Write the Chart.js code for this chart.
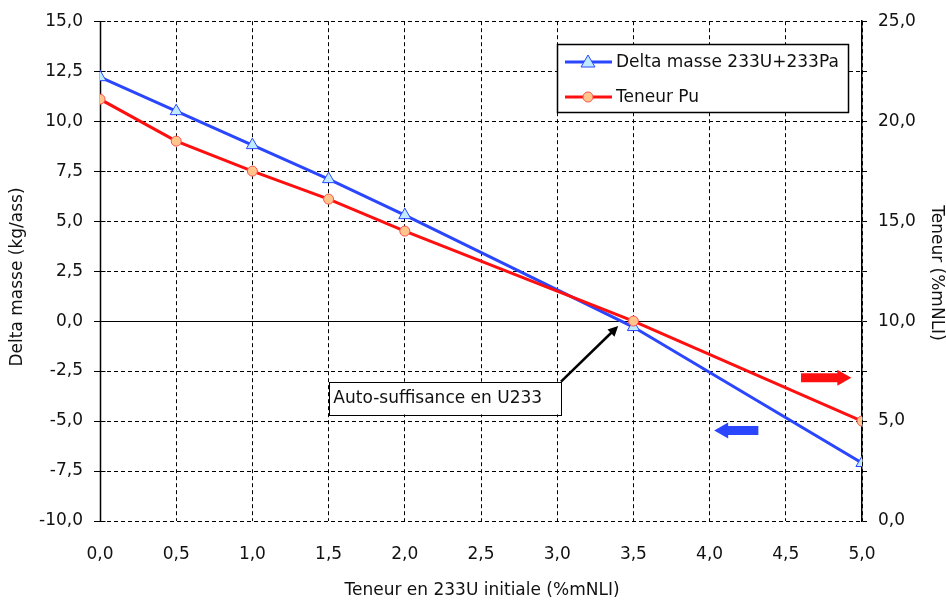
<!DOCTYPE html>
<html>
<head>
<meta charset="utf-8">
<script src="https://cdn.jsdelivr.net/npm/chart.js@4/dist/chart.umd.min.js"></script>
<style>
body{margin:0;background:#fff;}
</style>
</head>
<body>
<canvas id="chart" width="946" height="601"></canvas>
<script>
/* ==========================================
DATA
========================================== */

const teneurU233 = [0.0, 0.5, 1.0, 1.5, 2.0, 3.5, 5.0];

const deltaMasse = [12.2, 10.5, 8.8, 7.1, 5.3, -0.3, -7.1];

const teneurPu = [21.1, 19.0, 17.5, 16.1, 14.5, 10.0, 5.0];

const seriesNames = ["Delta masse 233U+233Pa", "Teneur Pu"];

const xTitle = "Teneur en 233U initiale (%mNLI)";
const yTitle = "Delta masse (kg/ass)";
const y1Title = "Teneur (%mNLI)";

const noteText = "Auto-suffisance en U233";


/* ==========================================
STYLE
========================================== */

const FONT = "DejaVu Sans";
const FSIZE = 17;
const BLUE = "#2a46ff";
const RED = "#ff1010";

function fmt(v){
return Number(v).toFixed(1).replace(".", ",");
}

function toPoints(xs, ys){
return xs.map((x, i) => ({ x: x, y: ys[i] }));
}


/* ==========================================
DECORATIONS (axes lines, legend, note, arrows, titles)
========================================== */

const decorPlugin = {

id: "decor",

beforeDatasetsDraw(chart){

const ctx = chart.ctx;
const a = chart.chartArea;
const sy = chart.scales.y;
const y0 = Math.round(sy.getPixelForValue(0)) + 0.5;
const xl = Math.round(a.left) + 0.5;

ctx.save();
ctx.strokeStyle = "#000";
ctx.lineWidth = 1;

// solid zero line
ctx.beginPath();
ctx.moveTo(a.left, y0);
ctx.lineTo(a.right, y0);
ctx.stroke();

// solid left axis with ticks on both sides
ctx.lineWidth = 1.5;
ctx.beginPath();
ctx.moveTo(xl, a.top);
ctx.lineTo(xl, a.bottom);
ctx.stroke();

ctx.lineWidth = 1;
sy.ticks.forEach(t => {
const p = Math.round(sy.getPixelForValue(t.value)) + 0.5;
ctx.beginPath();
ctx.moveTo(xl, p);
ctx.lineTo(xl + 5, p);
ctx.stroke();
});

ctx.restore();

},

afterDraw(chart){

const ctx = chart.ctx;
const sx = chart.scales.x;
const sy = chart.scales.y;
const a = chart.chartArea;

ctx.save();

// axis titles
ctx.fillStyle = "#111";
ctx.font = FSIZE + "px '" + FONT + "'";
ctx.textAlign = "center";
ctx.textBaseline = "middle";
ctx.fillText(xTitle, (a.left + a.right) / 2 + 1, 591);

ctx.save();
ctx.translate(18, 277);
ctx.rotate(-Math.PI / 2);
ctx.fillText(yTitle, 0, 0);
ctx.restore();

ctx.save();
ctx.translate(936, 273);
ctx.rotate(Math.PI / 2);
ctx.fillText(y1Title, 0, 0);
ctx.restore();

// legend box
const lx = 557, ly = 44, lw = 291, lh = 68;
ctx.fillStyle = "#fff";
ctx.fillRect(lx, ly, lw, lh);
ctx.strokeStyle = "#000";
ctx.lineWidth = 1.5;
ctx.strokeRect(lx + 0.5, ly + 0.5, lw, lh);

const rows = [
{ y: 62, color: BLUE, name: seriesNames[0], tri: true },
{ y: 97, color: RED, name: seriesNames[1], tri: false }
];

rows.forEach(r => {

ctx.strokeStyle = r.color;
ctx.lineWidth = 3;
ctx.beginPath();
ctx.moveTo(565, r.y);
ctx.lineTo(612, r.y);
ctx.stroke();

ctx.lineWidth = 1;
ctx.beginPath();
if(r.tri){
ctx.fillStyle = "#bfeaff";
ctx.strokeStyle = BLUE;
ctx.moveTo(588, r.y - 7);
ctx.lineTo(595, r.y + 5);
ctx.lineTo(581, r.y + 5);
ctx.closePath();
}else{
ctx.fillStyle = "#ffc58a";
ctx.strokeStyle = "#ff5050";
ctx.arc(588, r.y, 5, 0, Math.PI * 2);
}
ctx.fill();
ctx.stroke();

ctx.fillStyle = "#111";
ctx.textAlign = "left";
ctx.fillText(r.name, 616, r.y + 1);

});

// note box + arrow
const bx1 = sx.getPixelForValue(1.505);
const bx2 = sx.getPixelForValue(3.025);
const by1 = sy.getPixelForValue(-3.03);
const by2 = sy.getPixelForValue(-4.67);

ctx.fillStyle = "#fff";
ctx.fillRect(bx1, by1, bx2 - bx1, by2 - by1);
ctx.strokeStyle = "#000";
ctx.lineWidth = 1;
ctx.strokeRect(Math.round(bx1) + 0.5, Math.round(by1) + 0.5, Math.round(bx2 - bx1), Math.round(by2 - by1));

ctx.fillStyle = "#111";
ctx.textAlign = "left";
ctx.fillText(noteText, bx1 + 4, (by1 + by2) / 2 + 1);

const tx = sx.getPixelForValue(3.4);
const ty = sy.getPixelForValue(-0.25);
const ang = Math.atan2(ty - by1, tx - bx2);

ctx.strokeStyle = "#000";
ctx.lineWidth = 2.5;
ctx.beginPath();
ctx.moveTo(bx2, by1);
ctx.lineTo(tx - 6 * Math.cos(ang), ty - 6 * Math.sin(ang));
ctx.stroke();

ctx.fillStyle = "#000";
ctx.beginPath();
ctx.moveTo(tx, ty);
ctx.lineTo(tx - 10 * Math.cos(ang) + 5 * Math.sin(ang), ty - 10 * Math.sin(ang) - 5 * Math.cos(ang));
ctx.lineTo(tx - 10 * Math.cos(ang) - 5 * Math.sin(ang), ty - 10 * Math.sin(ang) + 5 * Math.cos(ang));
ctx.closePath();
ctx.fill();

// block arrows showing which axis each series uses
drawBlockArrow(ctx, sx.getPixelForValue(4.6), sx.getPixelForValue(4.93), sy.getPixelForValue(-2.83), RED);
drawBlockArrow(ctx, sx.getPixelForValue(4.32), sx.getPixelForValue(4.03), sy.getPixelForValue(-5.47), BLUE);

ctx.restore();

}

};

function drawBlockArrow(ctx, from, to, y, color){

const dir = to > from ? 1 : -1;
const head = 14;
const base = to - dir * head;

ctx.fillStyle = color;
ctx.beginPath();
ctx.moveTo(from, y - 4.5);
ctx.lineTo(base, y - 4.5);
ctx.lineTo(base, y - 8);
ctx.lineTo(to, y);
ctx.lineTo(base, y + 8);
ctx.lineTo(base, y + 4.5);
ctx.lineTo(from, y + 4.5);
ctx.closePath();
ctx.fill();

}


/* ==========================================
CHART
========================================== */

const tickFont = { family: FONT, size: FSIZE };

new Chart(
document.getElementById("chart"),
{

type: "scatter",

data: {

datasets: [

{
label: seriesNames[0],
data: toPoints(teneurU233, deltaMasse),
yAxisID: "y",
showLine: true,
borderColor: BLUE,
borderWidth: 3,
pointStyle: "triangle",
pointRadius: 7,
pointBorderWidth: 1,
pointBackgroundColor: "#bfeaff",
pointBorderColor: BLUE,
order: 1
},

{
label: seriesNames[1],
data: toPoints(teneurU233, teneurPu),
yAxisID: "y1",
showLine: true,
borderColor: RED,
borderWidth: 3,
pointStyle: "circle",
pointRadius: 5,
pointBorderWidth: 1,
pointBackgroundColor: "#ffc58a",
pointBorderColor: "#ff5050",
order: 0
}

]
},

options: {

responsive: false,
animation: false,

layout: {
padding: { top: 19, left: 0, right: 0, bottom: 0 }
},

plugins: {
legend: { display: false },
tooltip: { enabled: false }
},

scales: {

x: {
type: "linear",
min: 0,
max: 5,
ticks: {
stepSize: 0.5,
color: "#111",
font: tickFont,
padding: 23,
callback: v => fmt(v)
},
grid: {
color: "#000",
lineWidth: 1,
drawTicks: false
},
border: {
display: false,
dash: [4, 3]
},
afterFit: s => { s.height = 80; }
},

y: {
position: "left",
min: -10,
max: 15,
ticks: {
stepSize: 2.5,
color: "#111",
font: tickFont,
padding: 11,
callback: v => fmt(v)
},
grid: {
color: "#000",
lineWidth: 1,
tickLength: 6
},
border: {
display: false,
dash: [4, 3]
},
afterFit: s => { s.width = 100; }
},

y1: {
position: "right",
min: 0,
max: 25,
ticks: {
stepSize: 2.5,
color: "#111",
font: tickFont,
padding: 11,
callback: v => (v % 5 === 0 ? fmt(v) : "")
},
grid: {
drawOnChartArea: false,
color: "#000",
tickLength: 5
},
border: {
display: true,
color: "#000",
width: 1.5
},
afterFit: s => { s.width = 84; }
}

}

},

plugins: [decorPlugin]

}
);
</script>
</body>
</html>
